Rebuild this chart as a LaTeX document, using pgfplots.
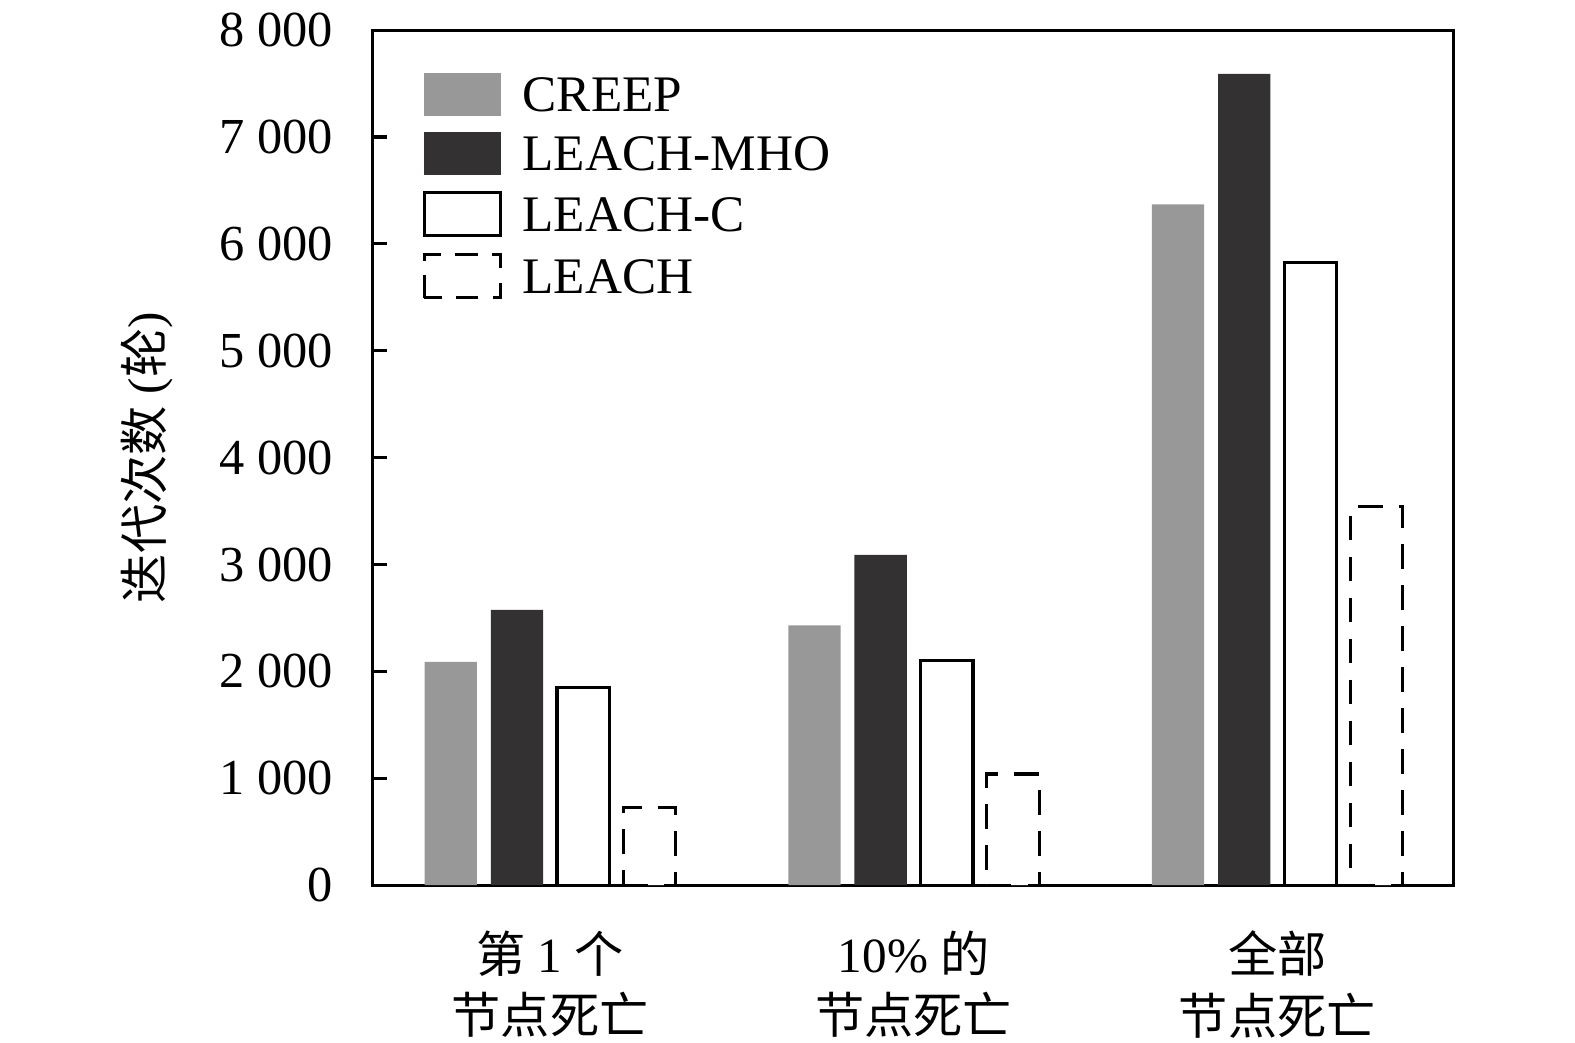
\documentclass[border=0pt]{standalone}
\usepackage{fontspec}
\setmainfont{Liberation Serif}
\newfontfamily\cjk{Noto Sans CJK SC}
\usepackage{pgfplots}
\pgfplotsset{compat=1.18}
\definecolor{creep}{HTML}{989898}
\definecolor{mho}{HTML}{333132}
\begin{document}
\begin{tikzpicture}
\begin{axis}[
  scale only axis,
  width=263.7pt, height=208.6pt,
  xmin=-0.488, xmax=2.485,
  ymin=0, ymax=8000,
  axis line style={line width=0.75pt},
  ytick={0,1000,2000,3000,4000,5000,6000,7000,8000},
  yticklabels={0,1 000,2 000,3 000,4 000,5 000,6 000,7 000,8 000},
  yticklabel style={font=\fontsize{12.3}{14}\selectfont, inner xsep=0pt, xshift=-9.5pt},
  ytick pos=left,
  tick align=inside,
  major tick length=3.4pt,
  tick style={line width=0.75pt, black},
  xtick={0,1,2},
  xtick style={draw=none},
  xticklabels={{{\cjk 第} 1 {\cjk 个}\\{\cjk 节点死亡}},{10\% {\cjk 的}\\{\cjk 节点死亡}},{{\cjk 全部}\\{\cjk 节点死亡}}},
  xticklabel style={align=center, font=\fontsize{12}{15}\selectfont, inner ysep=0pt, yshift=-7.5pt},
  ylabel={{\cjk 迭代次数} ({\cjk 轮})},
  ylabel style={at={(axis description cs:-0.2086,0.5)}, anchor=center, font=\fontsize{12}{14}\selectfont},
  ybar,
  bar width=0.144,
  legend style={at={(axis description cs:0,1)}, anchor=north west, xshift=12.0pt, yshift=-10.3pt,
    draw=none, fill=none, inner sep=0pt, row sep=3.85pt,
    font=\fontsize{12.5}{15}\selectfont,
    nodes={inner sep=0pt, text depth=0pt},
    /tikz/every odd column/.append style={column sep=5pt}},
  legend cell align=left,
]
\addplot[fill=creep, draw=none, bar shift=-0.273,
  legend image code/.code={\fill[creep] (0pt,-5.2pt) rectangle (18.6pt,5.3pt);}]
  coordinates {(0,2090) (1,2430) (2,6370)};
\addplot[fill=mho, draw=none, bar shift=-0.091,
  legend image code/.code={\fill[mho] (0pt,-5.2pt) rectangle (18.6pt,5.3pt);}]
  coordinates {(0,2575) (1,3090) (2,7590)};
\addplot[fill=white, draw=black, line width=0.8pt, bar shift=0.091,
  legend image code/.code={\draw[black, line width=0.8pt, fill=white] (0pt,-5.2pt) rectangle (18.6pt,5.3pt);}]
  coordinates {(0,1850) (1,2100) (2,5825)};
\addplot[fill=white, draw=black, line width=0.8pt, dash pattern=on 6pt off 4pt, bar shift=0.273,
  legend image code/.code={\draw[black, fill=white, line width=0.8pt, dash pattern=on 5.5pt off 3.5pt] (0pt,-5.2pt) rectangle (18.6pt,5.3pt);}]
  coordinates {(0,730) (1,1040) (2,3540)};
\legend{CREEP,LEACH-MHO,LEACH-C,LEACH}
\end{axis}
\pgfresetboundingbox
\path ([shift={(-90.9pt,-38.4pt)}]current axis.south west) rectangle ([shift={(29.6pt,7.35pt)}]current axis.north east);
\end{tikzpicture}
\end{document}
